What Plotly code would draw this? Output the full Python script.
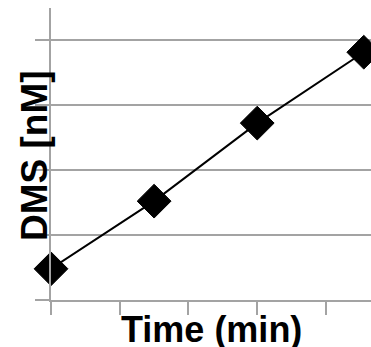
import plotly.graph_objects as go

time_min = [0, 15, 30, 45.5]
dms_nM = [0.48, 1.52, 2.72, 3.81]

GRAY = "#A3A3A3"
FONT = "Liberation Sans, Arial, sans-serif"

fig = go.Figure()
fig.add_trace(go.Scatter(
    x=time_min, y=dms_nM, mode="lines+markers",
    line=dict(color="black", width=2),
    marker=dict(symbol="diamond", size=26, color="black",
                line=dict(color="black", width=1)),
    cliponaxis=False, showlegend=False,
))

fig.update_layout(
    width=371, height=347,
    margin=dict(l=51, r=0, t=8, b=47),
    paper_bgcolor="white", plot_bgcolor="white",
    xaxis=dict(range=[0, 46.55], dtick=10, tick0=0, showticklabels=False,
               showgrid=False, zeroline=False, showline=True,
               linecolor=GRAY, linewidth=2, ticks="outside", ticklen=13,
               tickwidth=2, tickcolor=GRAY),
    yaxis=dict(range=[0, 4.49], dtick=1, tick0=0, showticklabels=False,
               showgrid=True, gridcolor=GRAY, gridwidth=2, zeroline=False,
               showline=True, linecolor=GRAY, linewidth=2, ticks="outside",
               ticklen=14, tickwidth=2, tickcolor=GRAY),
    annotations=[
        dict(text="<b>Time (min)</b>", xref="paper", yref="paper",
             x=0.5, y=0, xanchor="center", yanchor="middle", yshift=-29,
             showarrow=False, font=dict(family=FONT, size=36, color="black")),
        dict(text="<b>DMS [nM]</b>", xref="paper", yref="paper",
             x=0, y=0.5, xanchor="center", yanchor="middle", xshift=-17,
             yshift=-2, textangle=-90,
             showarrow=False, font=dict(family=FONT, size=37, color="black")),
    ],
)

fig.write_html("out.html")
